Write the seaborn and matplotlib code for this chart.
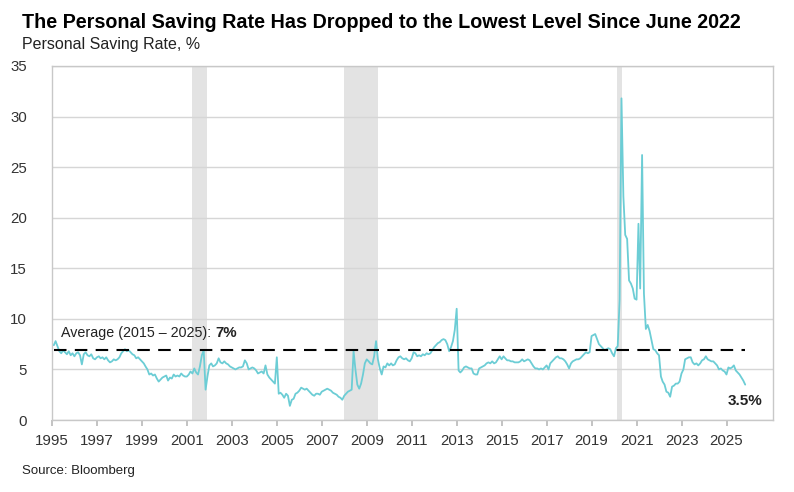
import matplotlib
matplotlib.use("Agg")
import matplotlib.pyplot as plt
import pandas as pd
import seaborn as sns

# monthly personal saving rate, %, Jan 1995 - Oct 2025
saving_rate = [
    7.4, 7.8, 7.3, 6.8, 6.6, 6.9, 6.7, 6.5, 6.8, 6.4, 6.6, 6.3,   # 1995
    6.6, 6.7, 6.4, 5.5, 6.5, 6.7, 6.4, 6.3, 6.5, 6.1, 6.0, 6.2,   # 1996
    6.3, 6.1, 6.2, 6.0, 6.2, 5.9, 5.7, 5.8, 6.0, 5.9, 6.0, 6.2,   # 1997
    6.6, 6.8, 7.0, 6.8, 6.9, 6.7, 6.5, 6.4, 6.1, 6.2, 6.0, 5.8,   # 1998
    5.6, 5.3, 5.0, 4.5, 4.6, 4.4, 4.5, 4.1, 3.8, 4.0, 4.2, 4.3,   # 1999
    4.4, 3.9, 4.2, 4.1, 4.5, 4.3, 4.4, 4.3, 4.6, 4.4, 4.3, 4.3,   # 2000
    4.5, 4.8, 4.6, 5.1, 4.7, 4.5, 5.3, 6.4, 6.9, 3.0, 4.3, 5.4,   # 2001
    5.6, 5.3, 5.4, 5.6, 6.1, 5.7, 5.6, 5.8, 5.6, 5.5, 5.3, 5.2,   # 2002
    5.1, 5.0, 5.1, 5.2, 5.2, 5.3, 5.9, 5.6, 5.0, 5.1, 5.2, 5.1,   # 2003
    4.9, 4.6, 4.7, 4.8, 4.6, 5.4, 4.5, 4.2, 4.0, 3.8, 3.6, 6.2,   # 2004
    2.6, 2.7, 2.5, 2.2, 2.6, 2.4, 1.4, 2.0, 2.1, 2.6, 2.7, 2.9,   # 2005
    3.2, 3.1, 3.0, 3.1, 2.9, 2.7, 2.5, 2.4, 2.6, 2.6, 2.5, 2.8,   # 2006
    2.9, 3.0, 3.1, 3.0, 2.9, 2.7, 2.6, 2.5, 2.3, 2.2, 2.0, 2.4,   # 2007
    2.6, 2.8, 2.9, 3.0, 6.8, 5.0, 3.5, 3.1, 3.6, 4.5, 5.6, 6.0,   # 2008
    5.8, 5.6, 5.5, 6.3, 7.8, 6.0, 5.1, 4.5, 5.3, 5.2, 5.6, 5.4,   # 2009
    5.6, 5.4, 5.5, 5.9, 6.2, 6.3, 6.1, 6.0, 6.1, 5.9, 5.8, 6.1,   # 2010
    6.7, 6.6, 6.3, 6.4, 6.3, 6.5, 6.4, 6.6, 6.5, 6.6, 6.9, 7.2,   # 2011
    7.4, 7.6, 7.7, 7.9, 8.0, 7.9, 7.5, 6.8, 7.2, 7.8, 8.9, 11.0,  # 2012
    4.9, 4.7, 4.9, 5.2, 5.3, 5.2, 5.1, 5.1, 4.6, 4.5, 4.5, 5.1,   # 2013
    5.2, 5.3, 5.4, 5.6, 5.7, 5.6, 5.8, 5.6, 5.7, 6.0, 6.3, 6.0,   # 2014
    6.3, 6.1, 5.9, 5.9, 5.8, 5.8, 5.7, 5.7, 5.7, 5.8, 6.0, 5.8,   # 2015
    5.9, 6.0, 5.9, 5.6, 5.3, 5.1, 5.1, 5.0, 5.1, 5.0, 5.2, 5.4,   # 2016
    5.0, 5.6, 5.8, 6.0, 6.2, 6.3, 6.1, 6.1, 6.0, 5.8, 5.5, 5.1,   # 2017
    5.6, 5.8, 5.9, 6.0, 6.0, 6.1, 6.3, 6.5, 6.7, 6.6, 6.7, 8.3,   # 2018
    8.4, 8.5, 8.0, 7.5, 7.3, 7.1, 6.9, 7.0, 7.1, 7.0, 6.6, 6.3,   # 2019
    7.1, 7.3, 11.9, 31.8, 22.1, 18.3, 17.9, 13.8, 13.5, 13.0, 12.0, 11.9,  # 2020
    19.4, 13.0, 26.2, 12.5, 9.0, 9.4, 8.8, 7.9, 7.0, 6.9, 6.6, 6.4,       # 2021
    4.3, 3.8, 3.5, 2.8, 2.7, 2.3, 3.3, 3.4, 3.6, 3.6, 3.8, 4.6,   # 2022
    5.0, 6.0, 6.1, 6.2, 6.2, 5.7, 5.5, 5.6, 5.4, 5.6, 5.9, 6.0,   # 2023
    6.3, 6.0, 5.9, 5.8, 5.8, 5.6, 5.4, 5.0, 5.1, 4.9, 4.8, 4.5,   # 2024
    5.2, 5.1, 5.2, 5.4, 4.9, 4.7, 4.5, 4.2, 3.9, 3.5,             # 2025
]
start_month = "1995-01-31"

recessions = [("2001-04-01", "2001-12-01"),
              ("2008-01-01", "2009-07-01"),
              ("2020-02-20", "2020-05-15")]

avg_level = 6.9
avg_label = "Average (2015 – 2025): "
avg_value = "7%"
last_label = "3.5%"
year_ticks = list(range(1995, 2026, 2))
y_ticks = list(range(0, 36, 5))

df = pd.DataFrame({
    "date": pd.date_range(start_month, periods=len(saving_rate), freq="ME"),
    "rate": saving_rate,
})

sns.set_theme(style="white")
plt.rcParams["font.family"] = ["Liberation Sans", "DejaVu Sans"]

fig = plt.figure(figsize=(7.94, 4.92), dpi=100)
ax = fig.add_axes([0.0655, 0.1463, 0.908, 0.7196])

for s, e in recessions:
    ax.axvspan(pd.Timestamp(s), pd.Timestamp(e), color="#E3E3E3", lw=0, zorder=0)

sns.lineplot(data=df, x="date", y="rate", ax=ax, color="#6CCDD5", lw=1.3, zorder=3)

ax.hlines(avg_level, df["date"].iloc[0], df["date"].iloc[-1], colors="black",
          linestyles=(0, (6, 4)), lw=1.5, zorder=4)

ax.set_xlim(pd.Timestamp("1995-01-01"), pd.Timestamp("2027-01-25"))
ax.set_ylim(0, 35)
ax.set_yticks(y_ticks, labels=[str(v) for v in y_ticks])
ax.set_xticks([pd.Timestamp(f"{y}-01-01") for y in year_ticks],
              labels=[str(y) for y in year_ticks])
ax.yaxis.grid(True, color="#D6D6D6", lw=1)
ax.set_axisbelow(True)
for sp in ax.spines.values():
    sp.set_color("#C8C8C8")
    sp.set_linewidth(1)
ax.tick_params(axis="x", bottom=True, length=4, color="#BBBBBB", labelsize=10.8,
               labelcolor="#333333", pad=6)
ax.tick_params(axis="y", left=False, labelsize=10.8, labelcolor="#333333", pad=12)
ax.set_xlabel("")
ax.set_ylabel("")

t = ax.text(pd.Timestamp("1995-06-01"), 8.6, avg_label, fontsize=10.3, color="#222222",
            va="center", ha="left", zorder=5)
ax.annotate(avg_value, xy=(1, 0.5), xycoords=t, va="center", ha="left",
            fontsize=10.8, fontweight="bold", color="#222222")

ax.text(df["date"].iloc[-1], 1.9, last_label, fontsize=11, fontweight="bold",
        color="#222222", ha="center", va="center")

fig.text(0.028, 0.955, "The Personal Saving Rate Has Dropped to the Lowest Level Since June 2022",
         fontsize=14.2, fontweight="bold", color="black", ha="left", va="center")
fig.text(0.028, 0.91, "Personal Saving Rate, %", fontsize=11.5, color="#222222",
         ha="left", va="center")
fig.text(0.028, 0.042, "Source: Bloomberg", fontsize=9.5, color="#222222",
         ha="left", va="center")

fig.savefig("out.png", dpi=100)
